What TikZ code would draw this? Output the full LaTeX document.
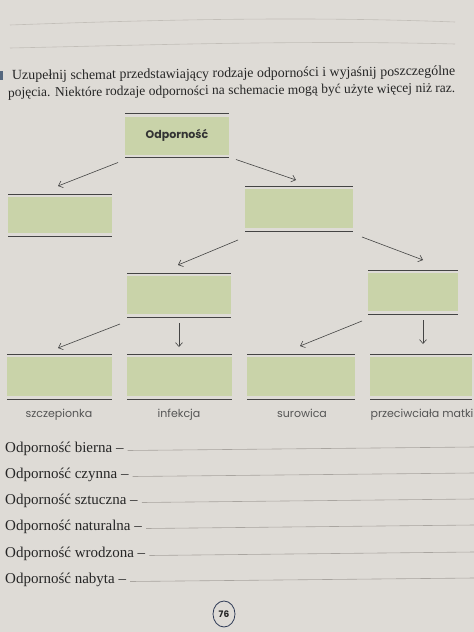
\documentclass[tikz,border=0pt]{standalone}
\usepackage{fontspec}
\setmainfont{Liberation Serif}
\newfontfamily\labelfont{Poppins}
\usetikzlibrary{arrows.meta}
\definecolor{paper}{HTML}{DEDBD6}
\definecolor{boxgreen}{HTML}{C9D3A9}
\definecolor{rulegray}{HTML}{444444}
\definecolor{inkgray}{HTML}{555555}
\definecolor{faintline}{HTML}{C2BEB8}
\definecolor{answergray}{HTML}{A9A5A0}
\definecolor{pen}{HTML}{2E3A55}
\definecolor{bulletblue}{HTML}{55677E}
\begin{document}
\begin{tikzpicture}[x=1pt,y=-1pt,
  gbox/.style={fill=boxgreen, inner sep=0pt, outer sep=0pt, minimum height=38pt, minimum width=104pt,
    font=\labelfont\bfseries\fontsize{11}{13}\selectfont, text=black!80},
  rule/.style={draw=rulegray, line width=1pt},
  conn/.style={draw=rulegray, line width=0.6pt, -{Straight Barb[length=4pt,width=7pt]}},
  lbl/.style={font=\labelfont\fontsize{11}{13}\selectfont, text=inkgray, anchor=base, inner sep=0pt},
  term/.style={anchor=base west, inner sep=0pt, font=\fontsize{15}{18}\selectfont, text=black!85},
  head/.style={anchor=base west, inner sep=0pt, text=black!85, rotate=0.6},
  answerline/.style={draw=answergray, line width=0.6pt}
]
\fill[paper] (0,0) rectangle (474,632);
\useasboundingbox (0,0) rectangle (474,632);

% faint ruled lines at top
\draw[faintline, line width=0.6pt] (10,25) .. controls (150,20) and (300,16) .. (455,22);
\draw[faintline, line width=0.6pt] (10,48) .. controls (150,45) and (300,40) .. (455,44);

% heading
\fill[bulletblue] (0,71) rectangle (3,80);
\node[head] (h1) at (12,80) {\resizebox{443pt}{!}{Uzupełnij schemat przedstawiający rodzaje odporności i wyjaśnij poszczególne}};
\node[head] (h2) at (8,97) {\resizebox{447pt}{!}{pojęcia. Niektóre rodzaje odporności na schemacie mogą być użyte więcej niż raz.}};

% boxes
\node[gbox] (top) at (177,135.5) {Odporność};
\node[gbox, minimum height=36pt] (l1) at (60,215) {};
\node[gbox, minimum width=108pt, minimum height=39pt] (r1) at (299,208.5) {};
\node[gbox] (m1) at (179,295) {};
\node[gbox, minimum width=90pt] (m2) at (413,292) {};
\node[gbox, minimum width=105pt, minimum height=39pt] (b1) at (59.5,376.5) {};
\node[gbox, minimum width=105pt, minimum height=39pt] (b2) at (179.5,376.5) {};
\node[gbox, minimum width=108pt, minimum height=39pt] (b3) at (301,376.5) {};
\node[gbox, minimum width=102pt, minimum height=39pt] (b4) at (421,376.5) {};

\foreach \n in {top,l1,r1,m1,m2,b1,b2,b3,b4} {
  \draw[rule] ([yshift=3pt]\n.north west) -- ([yshift=3pt]\n.north east);
  \draw[rule] ([yshift=-3pt]\n.south west) -- ([yshift=-3pt]\n.south east);
}

% connectors
\draw[conn] ([shift={(-7,8)}]top.south west) -- ([shift={(-2,-11)}]l1.north);
\draw[conn] ([shift={(7,5)}]top.south east) -- ([shift={(-3,-9)}]r1.north);
\draw[conn] ([shift={(-7,12)}]r1.south west) -- ([shift={(-1,-11)}]m1.north);
\draw[conn] ([shift={(9,9)}]r1.south east) -- ([shift={(10,-13)}]m2.north);
\draw[conn] ([shift={(-7,10)}]m1.south west) -- ([shift={(-1.5,-9)}]b1.north);
\draw[conn] ([shift={(0,9)}]m1.south) -- ([shift={(-0.5,-10)}]b2.north);
\draw[conn] ([shift={(-6,10)}]m2.south west) -- ([shift={(-1,-11)}]b3.north);
\draw[conn] ([shift={(10,9)}]m2.south) -- ([shift={(2,-13)}]b4.north);

% labels under bottom boxes
\node[lbl] (s1) at (59,417) {szczepionka};
\node[lbl] (s2) at (179,417) {infekcja};
\node[lbl] (s3) at (302,417) {surowica};
\node[lbl] (s4) at (422,417) {przeciwciała matki};

% terms with answer lines
\node[term] (t1) at (5,452) {Odporność bierna –};
\node[term] (t2) at (5,478) {Odporność czynna –};
\node[term] (t3) at (5,504) {Odporność sztuczna –};
\node[term] (t4) at (5,530) {Odporność naturalna –};
\node[term] (t5) at (5,557) {Odporność wrodzona –};
\node[term] (t6) at (5,583) {Odporność nabyta –};
\coordinate (e1) at (474,447);
\coordinate (e2) at (474,473);
\coordinate (e3) at (474,499);
\coordinate (e4) at (474,525);
\coordinate (e5) at (474,552);
\coordinate (e6) at (474,578);
\foreach \i in {1,...,6} {
  \draw[answerline] ([shift={(4,-1.5)}]t\i.base east) -- (e\i);
}

% page number
\node[font=\labelfont\bfseries\fontsize{9}{10}\selectfont, text=black!85, inner sep=0pt] (pg) at (224,614) {76};
\draw[pen, line width=0.8pt] (pg) ellipse [x radius=11pt, y radius=13pt];
\end{tikzpicture}
\end{document}
